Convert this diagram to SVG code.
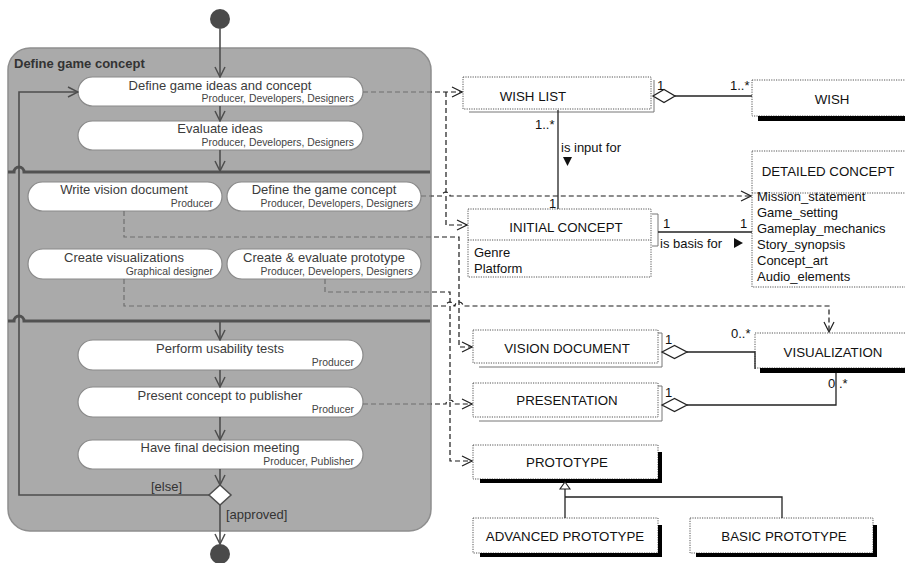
<svg xmlns="http://www.w3.org/2000/svg" width="905" height="563" viewBox="0 0 905 563">
  <style>
    .panel { fill: #aaaaaa; stroke: #8e8e8e; stroke-width: 1.5; }
    .act { fill: #ffffff; stroke: #8a8a8a; stroke-width: 1.2; }
    .atxt { font-family: "Liberation Sans", Arial, sans-serif; font-size: 13px; fill: #3c3c3c; text-anchor: middle; }
    .role { font-family: "Liberation Sans", Arial, sans-serif; font-size: 10.4px; fill: #444; text-anchor: end; }
    .flow { fill: none; stroke: #4e4e4e; stroke-width: 1.6; }
    .bar { fill: none; stroke: #525252; stroke-width: 3; }
    .dep { fill: none; stroke: url(#depInk); stroke-width: 1.2; stroke-dasharray: 5 3; }
    .cls { fill: #ffffff; stroke: #555; stroke-width: 1; stroke-dasharray: 1.2 1.2; }
    .shadow { fill: none; stroke: #777; stroke-width: 1; }
    .blk { fill: #000; }
    .ctxt { font-family: "Liberation Sans", Arial, sans-serif; font-size: 13.3px; fill: #111; text-anchor: middle; }
    .attr { font-family: "Liberation Sans", Arial, sans-serif; font-size: 13px; fill: #111; }
    .lbl { font-family: "Liberation Sans", Arial, sans-serif; font-size: 13px; fill: #111; }
    .assoc { fill: none; stroke: #222; stroke-width: 1.3; }
    .diam { fill: #fff; stroke: #222; stroke-width: 1.3; }
    .guard { font-family: "Liberation Sans", Arial, sans-serif; font-size: 13px; fill: #333; }
  </style>
  <defs>
    <!-- dependency ink: grey over the activity panel, dark outside it -->
    <linearGradient id="depInk" gradientUnits="userSpaceOnUse" x1="0" y1="0" x2="905" y2="0">
      <stop offset="0" stop-color="#6e6e6e"/>
      <stop offset="0.476" stop-color="#6e6e6e"/>
      <stop offset="0.477" stop-color="#1a1a1a"/>
      <stop offset="1" stop-color="#1a1a1a"/>
    </linearGradient>
    <marker id="vOpen" viewBox="0 0 12 12" refX="11" refY="6" markerWidth="12" markerHeight="12" markerUnits="userSpaceOnUse" orient="auto">
      <path d="M1,1 L11,6 L1,11" fill="none" stroke="#4e4e4e" stroke-width="1.5"/>
    </marker>
    <marker id="depOpen" viewBox="0 0 12 12" refX="11" refY="6" markerWidth="12" markerHeight="12" markerUnits="userSpaceOnUse" orient="auto">
      <path d="M1,1 L11,6 L1,11" fill="none" stroke="#222" stroke-width="1.2"/>
    </marker>
  </defs>

  <rect width="905" height="563" fill="#ffffff"/>

  <!-- Activity container -->
  <g id="define-game-concept">
    <rect class="panel" x="8" y="48" width="423" height="483" rx="22" ry="22"/>
    <text x="14" y="68" font-family="Liberation Sans, Arial, sans-serif" font-size="13" font-weight="bold" fill="#333">Define game concept</text>
  </g>

  <!-- Fork/join bars -->
  <g id="bars">
    <path class="bar" d="M8,172 H14 a5,5 0 0 1 10,0 H430"/>
    <path class="bar" d="M8,321 H14 a5,5 0 0 1 10,0 H430"/>
  </g>

  <g id="start">
    <circle cx="220" cy="19" r="10" fill="#4a4a4a"/>
  </g>
  <g id="end">
    <circle cx="220" cy="554" r="10" fill="#4a4a4a"/>
  </g>

  <g id="act-define-ideas">
    <rect class="act" x="78" y="77" width="285" height="29" rx="14.5"/>
    <text class="atxt" x="220" y="90">Define game ideas and concept</text>
    <text class="role" x="354" y="102">Producer, Developers, Designers</text>
  </g>
  <g id="act-evaluate">
    <rect class="act" x="78" y="121" width="285" height="29" rx="14.5"/>
    <text class="atxt" x="220" y="133">Evaluate ideas</text>
    <text class="role" x="354" y="146">Producer, Developers, Designers</text>
  </g>
  <g id="act-vision">
    <rect class="act" x="28" y="182" width="194" height="29" rx="14.5"/>
    <text class="atxt" x="124" y="194">Write vision document</text>
    <text class="role" x="213" y="207">Producer</text>
  </g>
  <g id="act-game-concept">
    <rect class="act" x="227" y="182" width="194" height="29" rx="14.5"/>
    <text class="atxt" x="324" y="194">Define the game concept</text>
    <text class="role" x="413" y="207">Producer, Developers, Designers</text>
  </g>
  <g id="act-visualizations">
    <rect class="act" x="28" y="249" width="194" height="30" rx="15"/>
    <text class="atxt" x="124" y="262">Create visualizations</text>
    <text class="role" x="213" y="275">Graphical designer</text>
  </g>
  <g id="act-prototype">
    <rect class="act" x="227" y="249" width="194" height="30" rx="15"/>
    <text class="atxt" x="324" y="262">Create &amp; evaluate prototype</text>
    <text class="role" x="413" y="275">Producer, Developers, Designers</text>
  </g>
  <g id="act-usability">
    <rect class="act" x="78" y="340" width="285" height="30" rx="15"/>
    <text class="atxt" x="220" y="353">Perform usability tests</text>
    <text class="role" x="354" y="366">Producer</text>
  </g>
  <g id="act-present">
    <rect class="act" x="78" y="387" width="285" height="30" rx="15"/>
    <text class="atxt" x="220" y="400">Present concept to publisher</text>
    <text class="role" x="354" y="413">Producer</text>
  </g>
  <g id="act-decision">
    <rect class="act" x="78" y="440" width="285" height="29" rx="14.5"/>
    <text class="atxt" x="220" y="452">Have final decision meeting</text>
    <text class="role" x="354" y="465">Producer, Publisher</text>
  </g>
  <g id="decision">
    <path d="M220,485 L231,495 L220,505 L209,495 Z" fill="#fff" stroke="#4e4e4e" stroke-width="1.5"/>
    <text class="guard" x="151" y="491">[else]</text>
    <text class="guard" x="226" y="519">[approved]</text>
  </g>

  <!-- Classes -->
  <g id="wish-list">
    <path class="shadow" d="M469,112 H654 V80"/>
    <rect class="cls" x="463" y="77" width="188" height="32"/>
    <text class="ctxt" x="533" y="101">WISH LIST</text>
  </g>
  <g id="wish">
    <rect class="cls" x="752" y="80" width="160" height="36"/>
    <rect class="blk" x="758" y="116" width="147" height="5"/>
    <text class="ctxt" x="832" y="104">WISH</text>
  </g>
  <g id="detailed-concept">
    <rect class="cls" x="752" y="151" width="160" height="136"/>
    <line class="cls" x1="752" y1="193" x2="905" y2="193"/>
    <text class="ctxt" x="828" y="176">DETAILED CONCEPT</text>
    <text class="attr" x="757" y="201">Mission_statement</text>
    <text class="attr" x="757" y="217">Game_setting</text>
    <text class="attr" x="757" y="233">Gameplay_mechanics</text>
    <text class="attr" x="757" y="249">Story_synopsis</text>
    <text class="attr" x="757" y="265">Concept_art</text>
    <text class="attr" x="757" y="281">Audio_elements</text>
  </g>
  <g id="initial-concept">
    <path class="shadow" d="M652,214 H658 V246 H652"/>
    <rect class="cls" x="468" y="209" width="183" height="68"/>
    <line class="cls" x1="468" y1="240" x2="651" y2="240"/>
    <text class="ctxt" x="566" y="232">INITIAL CONCEPT</text>
    <text class="attr" x="474" y="257">Genre</text>
    <text class="attr" x="474" y="273">Platform</text>
  </g>
  <g id="vision-document">
    <path class="shadow" d="M479,367 H662 V333 H658"/>
    <rect class="cls" x="473" y="330" width="185" height="33"/>
    <text class="ctxt" x="567" y="353">VISION DOCUMENT</text>
  </g>
  <g id="visualization">
    <rect class="cls" x="755" y="333" width="157" height="35"/>
    <rect class="blk" x="760" y="368" width="145" height="5"/>
    <text class="ctxt" x="833" y="357">VISUALIZATION</text>
  </g>
  <g id="presentation">
    <path class="shadow" d="M479,421 H662 V386 H658"/>
    <rect class="cls" x="473" y="383" width="185" height="34"/>
    <text class="ctxt" x="567" y="405">PRESENTATION</text>
  </g>
  <g id="prototype">
    <rect class="cls" x="473" y="445" width="185" height="34"/>
    <rect class="blk" x="658" y="452" width="4" height="31"/>
    <rect class="blk" x="480" y="479" width="182" height="4"/>
    <text class="ctxt" x="567" y="467">PROTOTYPE</text>
  </g>
  <g id="advanced-prototype">
    <rect class="cls" x="473" y="518" width="185" height="35"/>
    <rect class="blk" x="658" y="525" width="4" height="32"/>
    <rect class="blk" x="480" y="553" width="182" height="4"/>
    <text class="ctxt" x="565" y="541">ADVANCED PROTOTYPE</text>
  </g>
  <g id="basic-prototype">
    <rect class="cls" x="690" y="518" width="183" height="35"/>
    <rect class="blk" x="873" y="525" width="4" height="32"/>
    <rect class="blk" x="696" y="553" width="181" height="4"/>
    <text class="ctxt" x="784" y="541">BASIC PROTOTYPE</text>
  </g>

  <g id="connectors">
    <!-- control flow -->
    <line class="flow" x1="220" y1="29" x2="220" y2="77" marker-end="url(#vOpen)"/>
    <line class="flow" x1="220" y1="106" x2="220" y2="121" marker-end="url(#vOpen)"/>
    <line class="flow" x1="220" y1="150" x2="220" y2="171" marker-end="url(#vOpen)"/>
    <line class="flow" x1="220" y1="322" x2="220" y2="340" marker-end="url(#vOpen)"/>
    <line class="flow" x1="220" y1="370" x2="220" y2="387" marker-end="url(#vOpen)"/>
    <line class="flow" x1="220" y1="417" x2="220" y2="440" marker-end="url(#vOpen)"/>
    <line class="flow" x1="220" y1="469" x2="220" y2="485" marker-end="url(#vOpen)"/>
    <line class="flow" x1="220" y1="505" x2="220" y2="544" marker-end="url(#vOpen)"/>
    <path class="flow" d="M209,495 H19 V92 H78" marker-end="url(#vOpen)"/>

    <!-- object flows / dependencies -->
    <path class="dep" d="M363,92 H462" marker-end="url(#depOpen)"/>
    <path class="dep" d="M446,92 V225 H467" marker-end="url(#depOpen)"/>
    <path class="dep" d="M421,196 H442 a4,4 0 0 1 8,0 H751" marker-end="url(#depOpen)"/>
    <path class="dep" d="M124,211 V237 H459 V347 H472" marker-end="url(#depOpen)"/>
    <path class="dep" d="M325,279 V292 H450 V461 H472" marker-end="url(#depOpen)"/>
    <path class="dep" d="M124,279 V306 H446 a4,4 0 0 1 8,0 H455 a4,4 0 0 1 8,0 H829 V332" marker-end="url(#depOpen)"/>
    <path class="dep" d="M363,404 H446 a4,4 0 0 1 8,0 H472" marker-end="url(#depOpen)"/>

    <!-- aggregation WISH LIST - WISH -->
    <path class="diam" d="M653,96 L664,89.5 L675,96 L664,102.5 Z"/>
    <line class="assoc" x1="675" y1="96" x2="752" y2="96"/>
    <text class="lbl" x="657" y="90">1</text>
    <text class="lbl" x="730" y="90">1..*</text>

    <!-- WISH LIST is input for INITIAL CONCEPT -->
    <line class="assoc" x1="558" y1="110" x2="558" y2="209" stroke-width="2"/>
    <text class="lbl" x="535" y="129">1..*</text>
    <text class="lbl" x="561" y="152">is input for</text>
    <path d="M563,157 H572 L567.5,166 Z" fill="#111"/>
    <text class="lbl" x="549" y="208">1</text>

    <!-- INITIAL CONCEPT is basis for DETAILED CONCEPT -->
    <line class="assoc" x1="658" y1="232" x2="752" y2="232" stroke-width="1.6"/>
    <text class="lbl" x="663" y="228">1</text>
    <text class="lbl" x="740" y="228">1</text>
    <text class="lbl" x="660" y="248">is basis for</text>
    <path d="M734,238 L743,243 L734,248 Z" fill="#111"/>

    <!-- aggregations to VISUALIZATION -->
    <path class="diam" d="M662,352 L674.5,345.5 L687,352 L674.5,358.5 Z"/>
    <path class="assoc" d="M687,352 H755 V369"/>
    <text class="lbl" x="665" y="344">1</text>
    <text class="lbl" x="731" y="338">0..*</text>
    <path class="diam" d="M662,405 L674.5,398.5 L687,405 L674.5,411.5 Z"/>
    <path class="assoc" d="M687,405 H836 V373"/>
    <text class="lbl" x="665" y="397">1</text>
    <text class="lbl" x="828" y="388">0</text>
    <text class="lbl" x="839" y="388">.*</text>

    <!-- generalization -->
    <path d="M565,482 L570,489 L560,489 Z" fill="#fff" stroke="#222" stroke-width="1.1"/>
    <path class="assoc" d="M565,489 V518 M565,497 H782 V518" stroke-width="1.1"/>
  </g>
</svg>
